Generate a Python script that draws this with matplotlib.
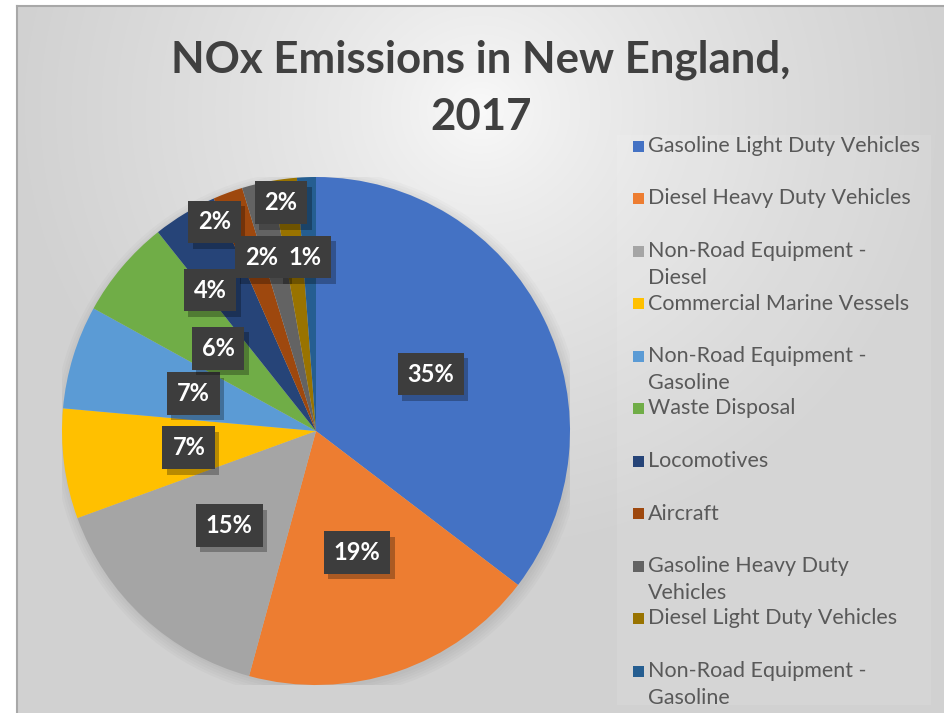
import numpy as np
import matplotlib.pyplot as plt
from matplotlib.patches import Rectangle, Circle
import matplotlib.patheffects as pe

categories = ['Gasoline Light Duty Vehicles', 'Diesel Heavy Duty Vehicles',
              'Non-Road Equipment -\nDiesel', 'Commercial Marine Vessels',
              'Non-Road Equipment -\nGasoline', 'Waste Disposal', 'Locomotives',
              'Aircraft', 'Gasoline Heavy Duty\nVehicles', 'Diesel Light Duty Vehicles',
              'Non-Road Equipment -\nGasoline']
shares = [35.4, 18.9, 15.2, 7.0, 6.6, 6.3, 4.1, 1.9, 1.9, 1.6, 1.2]
colors = ['#4472C4', '#ED7D31', '#A5A5A5', '#FFC000', '#5B9BD5', '#70AD47',
          '#264478', '#9E480E', '#636363', '#997300', '#255E91']

# best-fit spots Excel picked for the thin slices (pie units)
label_xy = {6: (-0.417, 0.555), 7: (-0.398, 0.823), 8: (-0.213, 0.685),
            9: (-0.138, 0.898), 10: (-0.043, 0.685)}

W, H = 944, 713
fig = plt.figure(figsize=(W / 100, H / 100), dpi=100)
plt.rcParams['font.family'] = ['Lato', 'DejaVu Sans']

# background: white margin + radial grey gradient
bg = fig.add_axes([17 / W, 0, 1 - 17 / W, 1 - 6 / H])
yy, xx = np.mgrid[6:H, 17:W]
d = np.hypot(xx - 480, (yy - 110) * 1.05)
v = 0.985 - 0.165 * np.clip(d / 470, 0, 1) ** 0.7
bg.imshow(np.dstack([v, v, v]), aspect='auto', extent=[0, 1, 0, 1], interpolation='bilinear')
bg.set_xlim(0, 1)
bg.set_ylim(0, 1)
bg.axis('off')
fig.add_artist(plt.Line2D([17 / W, 17 / W], [0, 1 - 6 / H], color='#a8a8a8', lw=1.5))
fig.add_artist(plt.Line2D([17 / W, 1], [1 - 6 / H, 1 - 6 / H], color='#a8a8a8', lw=1.5))

# legend panel
fig.add_artist(Rectangle((617 / W, 1 - 705 / H), (931 - 617) / W, (705 - 135) / H,
                         transform=fig.transFigure, fc='white', alpha=0.1, ec='none'))

# pie
cx, cy, R = 316, H - 431, 254
ax = fig.add_axes([(cx - R) / W, (cy - R) / H, 2 * R / W, 2 * R / H])
for k in range(5):
    ax.add_patch(Circle((0.008, -0.012), 1.0 + 0.01 * k, color='k', alpha=0.018, lw=0))
wedges, _ = ax.pie(shares, colors=colors, startangle=90, counterclock=False,
                   wedgeprops=dict(linewidth=0))
ax.set_xlim(-1, 1)
ax.set_ylim(-1, 1)
ax.set_aspect('equal')
ax.axis('off')

total = sum(shares)
box = dict(boxstyle='square,pad=0.42', fc='#3d3d3d', ec='none', lw=0)
for i, w in enumerate(wedges):
    txt = f'{round(shares[i] / total * 100)}%'
    if i in label_xy:
        x, y = label_xy[i]
    else:
        a = np.deg2rad((w.theta1 + w.theta2) / 2)
        x, y = 0.505 * np.cos(a), 0.505 * np.sin(a)
    t = ax.text(x, y, txt, ha='center', va='center', fontsize=17, fontweight='bold',
                color='white', bbox=box)
    t.get_bbox_patch().set_path_effects(
        [pe.SimplePatchShadow(offset=(3, -4), shadow_rgbFace='black', alpha=0.28), pe.Normal()])

# title
fig.text(481 / W, 1 - 60 / H, 'NOx Emissions in New England,', ha='center', va='center',
         fontsize=31.5, fontweight='bold', color='#404040')
fig.text(481 / W, 1 - 117 / H, '2017', ha='center', va='center',
         fontsize=31.5, fontweight='bold', color='#404040')

# legend, Excel style: fixed row pitch, wrapped lines spill over
for i, (name, c) in enumerate(zip(categories, colors)):
    ypx = 146 + 52.5 * i
    fig.add_artist(Rectangle((633 / W, 1 - (ypx + 5.5) / H), 11 / W, 11 / H,
                             transform=fig.transFigure, fc=c, ec='none'))
    for j, line in enumerate(name.split('\n')):
        fig.text(648 / W, 1 - (ypx + 27 * j) / H, line, ha='left', va='center',
                 fontsize=15.5, color='#595959')

fig.savefig('out.png', dpi=100)
